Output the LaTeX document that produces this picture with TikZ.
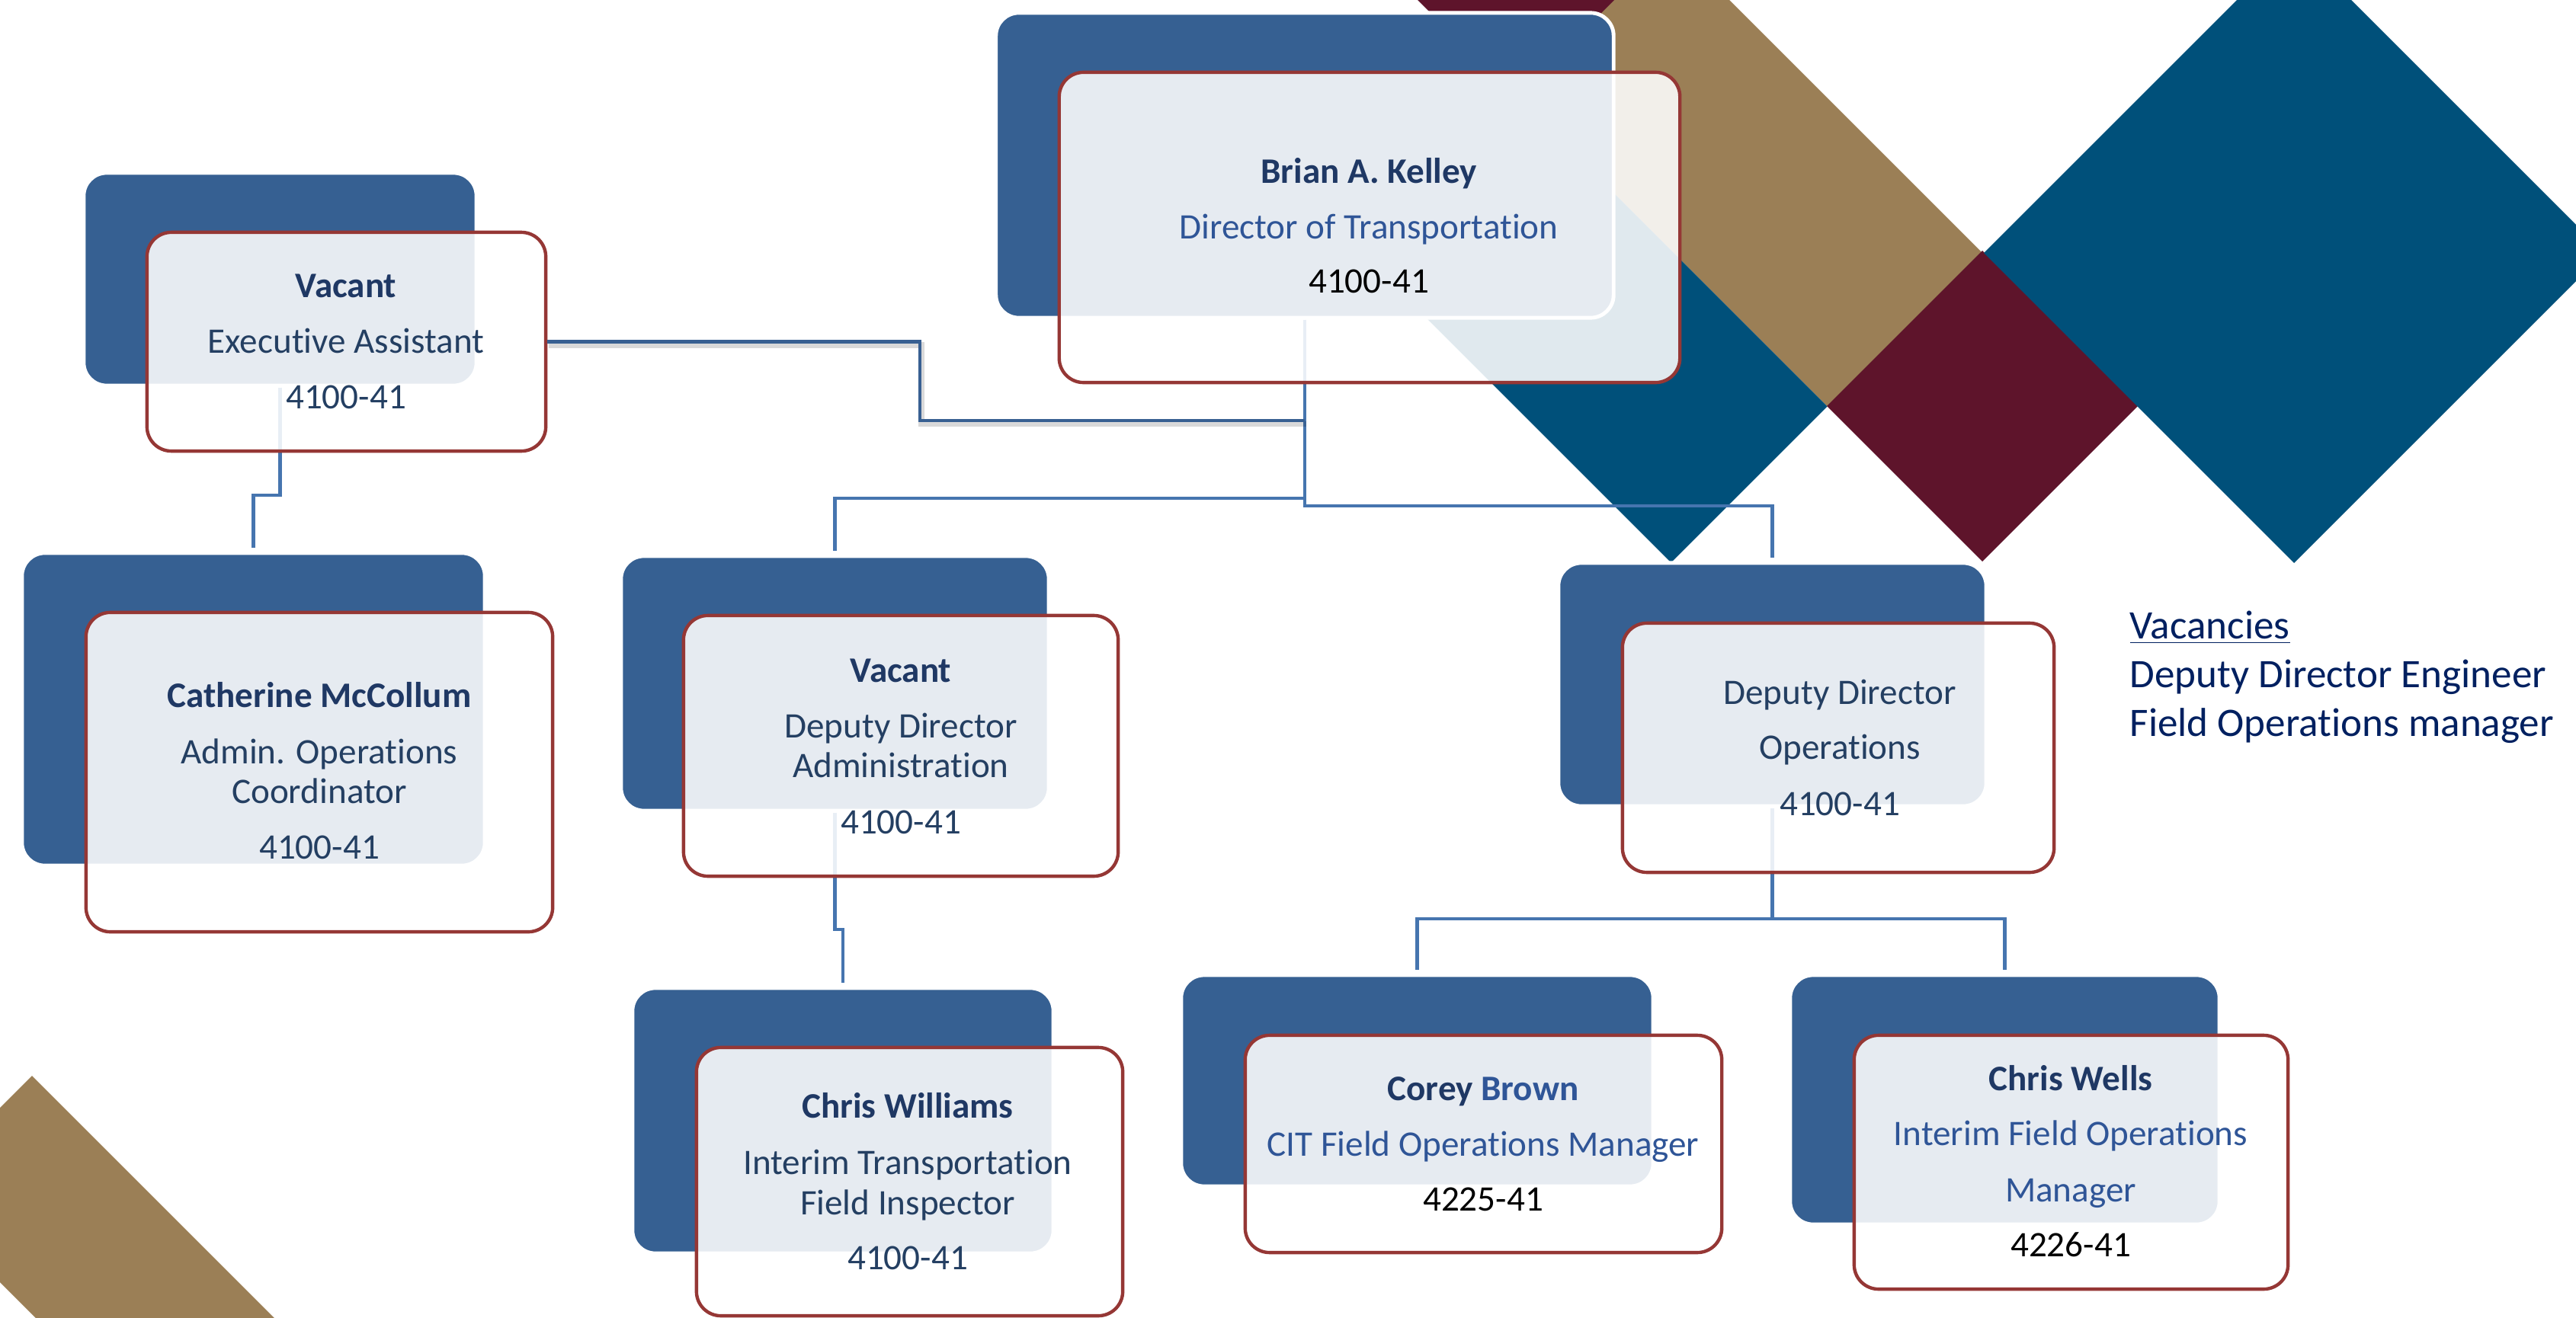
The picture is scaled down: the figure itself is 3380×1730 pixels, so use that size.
\documentclass[tikz,border=0pt]{standalone}
\usepackage{fontspec}
\setmainfont{Carlito}[Ligatures={NoCommon,NoContextual}]
\definecolor{diamondblue}{RGB}{0,80,122}
\definecolor{wine}{RGB}{94,20,43}
\definecolor{tanbrown}{RGB}{155,127,86}
\definecolor{backblue}{RGB}{54,96,146}
\definecolor{framered}{RGB}{149,55,53}
\definecolor{connblue}{RGB}{70,117,175}
\definecolor{execblue}{RGB}{56,96,146}
\definecolor{navyname}{RGB}{31,56,100}
\definecolor{navytext}{RGB}{36,63,98}
\definecolor{titleblue}{RGB}{47,85,151}
\definecolor{vacnavy}{RGB}{0,32,96}
\tikzset{
	backbox/.style={draw=white, line width=1.4pt, fill=backblue, rounded corners=0.3cm, inner sep=0pt},
	frontbox/.style={draw=framered, line width=1.25pt, fill=white, fill opacity=0.88, rounded corners=0.32cm, inner sep=0pt},
	conn/.style={draw=connblue, line width=1.3pt, shorten >=1.4pt},
	execconn/.style={draw=execblue, line width=1.2pt},
	connshadow/.style={draw=black, opacity=0.15, line width=2pt, transform canvas={shift={(0.02cm,-0.045cm)}}},
	boxtxt/.style={anchor=base, inner sep=0pt, font=\fontsize{13.4}{16}\selectfont},
	persontxt/.style={boxtxt, text=navyname, font=\fontsize{13.4}{16}\selectfont\bfseries},
	roletxt/.style={boxtxt, text=titleblue},
	numtxt/.style={boxtxt, text=black},
	vacanttxt/.style={anchor=base west, inner sep=0pt, text=vacnavy, font=\fontsize{15.1}{18}\selectfont}
}
\begin{document}
\begin{tikzpicture}[x=0.01cm, y=-0.01cm]
		%%%%% START %%%%%
		\useasboundingbox (0,0) rectangle (3380,1730);
		\clip (0,0) rectangle (3380,1730);
		
		\fill[tanbrown] (1764,-100) -- (2169,-100) -- (2600,331) -- (2397.5,533.5) -- cycle;
		\fill[wine] (1989,-279) -- (2193,-75) -- (1989,129) -- (1785,-75) -- cycle;
		\fill[diamondblue] (1991,127) -- (2397.5,533.5) -- (2192.5,738.5) -- (1786,332) -- cycle;
		\fill[wine] (2601,329) -- (2805,533) -- (2601,737) -- (2397,533) -- cycle;
		\fill[diamondblue] (3010,-75) -- (3417,332) -- (3010,739) -- (2603,332) -- cycle;
		\fill[tanbrown] (42,1412) -- (542,1912) -- (385.5,2068.5) -- (-114.5,1568.5) -- cycle;
		
		\node[backbox, minimum width=5.15cm, minimum height=2.79cm] (exec-b) at (367.5,366.5) {};
		\node[backbox, minimum width=6.07cm, minimum height=4.10cm] (cath-b) at (332.5,931) {};
		\node[backbox, minimum width=5.61cm, minimum height=3.34cm] (dadmin-b) at (1095.5,897) {};
		\node[backbox, minimum width=8.10cm, minimum height=4.00cm] (brian-b) at (1712,217) {};
		\node[backbox, minimum width=5.61cm, minimum height=3.19cm] (dops-b) at (2325.5,898.5) {};
		\node[backbox, minimum width=5.52cm, minimum height=3.48cm] (cw-b) at (1106,1471) {};
		\node[backbox, minimum width=6.19cm, minimum height=2.77cm] (corey-b) at (1859.5,1418.5) {};
		\node[backbox, minimum width=5.63cm, minimum height=3.27cm] (wells-b) at (2630.5,1443.5) {};
		
		\draw[conn] (brian-b.south) -- (1712,654) -| (dadmin-b.north);
		\draw[conn] (brian-b.south) -- (1712,664) -| (dops-b.north);
		\draw[conn] (exec-b.south) -- (367.5,650) -| (cath-b.north);
		\draw[conn] (dadmin-b.south) -- (1095.5,1220) -| (cw-b.north);
		\draw[conn] (dops-b.south) -- (2325.5,1206) -| (corey-b.north);
		\draw[conn] (dops-b.south) -- (2325.5,1206) -| (wells-b.north);
		
		\node[frontbox, minimum width=5.23cm, minimum height=2.87cm] (exec-f) at (454.5,448.5) {};
		\node[frontbox, minimum width=6.12cm, minimum height=4.19cm] (cath-f) at (419,1013.5) {};
		\node[frontbox, minimum width=5.70cm, minimum height=3.42cm] (dadmin-f) at (1182,979) {};
		\node[frontbox, minimum width=8.14cm, minimum height=4.07cm] (brian-f) at (1797,298.5) {};
		\node[frontbox, minimum width=5.66cm, minimum height=3.27cm] (dops-f) at (2412,981.5) {};
		\node[frontbox, minimum width=5.59cm, minimum height=3.52cm] (cw-f) at (1193.5,1551) {};
		\node[frontbox, minimum width=6.25cm, minimum height=2.85cm] (corey-f) at (1946.5,1501.5) {};
		\node[frontbox, minimum width=5.69cm, minimum height=3.33cm] (wells-f) at (2717.5,1525.5) {};
		
		\coordinate (bjoin) at (1712,552);
		\draw[connshadow] (exec-f.east) -| (1207,552) -- (bjoin);
		\draw[execconn] (exec-f.east) -| (1207,552) -- (bjoin);
		
		\node[persontxt] (exec-n) at (454,390) {Vacant};
		\node[boxtxt, text=navytext] (exec-r) at (454,463) {Executive Assistant};
		\node[boxtxt, text=navytext] (exec-c) at (454,536) {4100-41};
		
		\node[persontxt] (cath-n) at (419,928) {Catherine McCollum};
		\node[boxtxt, text=navytext] (cath-r1) at (419,1002) {Admin. Operations};
		\node[boxtxt, text=navytext] (cath-r2) at (419,1054) {Coordinator};
		\node[boxtxt, text=navytext] (cath-c) at (419,1127) {4100-41};
		
		\node[persontxt] (dadmin-n) at (1182,895) {Vacant};
		\node[boxtxt, text=navytext] (dadmin-r1) at (1182,968) {Deputy Director};
		\node[boxtxt, text=navytext] (dadmin-r2) at (1182,1020) {Administration};
		\node[boxtxt, text=navytext] (dadmin-c) at (1182,1094) {4100-41};
		
		\node[persontxt] (brian-n) at (1796,240) {Brian A. Kelley};
		\node[roletxt] (brian-r) at (1796,313) {Director of Transportation};
		\node[numtxt] (brian-c) at (1796,384) {4100-41};
		
		\node[boxtxt, text=navytext] (dops-r1) at (2414,924) {Deputy Director};
		\node[boxtxt, text=navytext] (dops-r2) at (2414,996) {Operations};
		\node[boxtxt, text=navytext] (dops-c) at (2414,1070) {4100-41};
		
		\node[persontxt] (cw-n) at (1191,1467) {Chris Williams};
		\node[boxtxt, text=navytext] (cw-r1) at (1191,1541) {Interim Transportation};
		\node[boxtxt, text=navytext] (cw-r2) at (1191,1594) {Field Inspector};
		\node[boxtxt, text=navytext] (cw-c) at (1191,1666) {4100-41};
		
		\node[persontxt] (corey-n) at (1946,1444) {Corey \textcolor{titleblue}{Brown}};
		\node[roletxt] (corey-r) at (1946,1517) {CIT Field Operations Manager};
		\node[numtxt] (corey-c) at (1946,1589) {4225-41};
		
		\node[persontxt] (wells-n) at (2717,1431) {Chris Wells};
		\node[roletxt] (wells-r1) at (2717,1503) {Interim Field Operations};
		\node[roletxt] (wells-r2) at (2717,1577) {Manager};
		\node[numtxt] (wells-c) at (2717,1649) {4226-41};
		
		\node[vacanttxt] (vac-head) at (2794,838) {\underline{Vacancies}};
		\node[vacanttxt] (vac-one) at (2794,902) {Deputy Director Engineer};
		\node[vacanttxt] (vac-two) at (2794,966) {Field Operations manager};
		%%%%% END %%%%%
	\end{tikzpicture}
\end{document}
